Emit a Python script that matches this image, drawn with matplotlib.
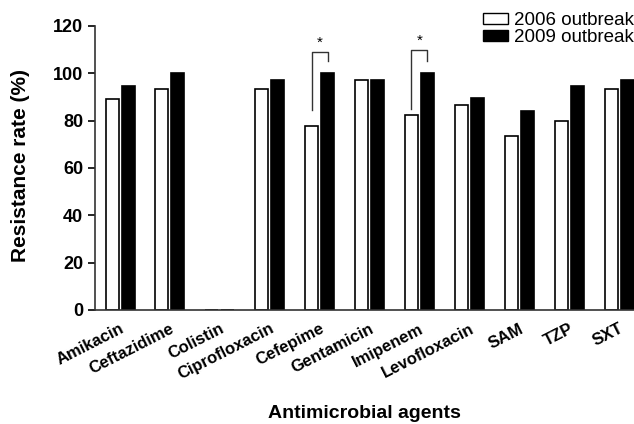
import numpy as np
import matplotlib
matplotlib.use('Agg')
from matplotlib import pyplot as plt
from matplotlib.patches import Patch

agents = ['Amikacin', 'Ceftazidime', 'Colistin', 'Ciprofloxacin', 'Cefepime',
          'Gentamicin', 'Imipenem', 'Levofloxacin', 'SAM', 'TZP', 'SXT']
rate_2006 = [88.9, 93.3, 0, 93.3, 77.8, 97.2, 82.2, 86.7, 73.3, 80.0, 93.3]
rate_2009 = [94.4, 100, 0, 97.2, 100, 97.2, 100, 89.4, 84.2, 94.4, 97.2]
# significant pairs: agent index, bracket top, left/right foot heights
sig_idx = [4, 6]
sig_top = [109, 110]
sig_left = [84.5, 85]
sig_right = [105, 105]

plt.rcParams['font.family'] = ['Liberation Sans', 'DejaVu Sans']

fig = plt.figure(figsize=(6.34, 4.24), dpi=100)
ax = fig.add_axes([0.150, 0.269, 0.85, 0.670])

x = np.arange(len(agents))
w = 0.26
off = 0.16
ax.bar(x - off, rate_2006, w, color='white', edgecolor='black', lw=1.2)
ax.bar(x + off, rate_2009, w, color='black', edgecolor='black', lw=1.2)

for i, top, yl, yr in zip(sig_idx, sig_top, sig_left, sig_right):
    ax.plot([i - off, i - off, i + off, i + off], [yl, top, top, yr],
            color='#333333', lw=1.0)
    ax.text(i, top + 0.8, '*', ha='center', va='bottom', fontsize=11)

ax.set_xlim(-0.5, 10.3)
ax.set_ylim(0, 120)
ax.set_yticks(np.arange(0, 121, 20))
ax.tick_params(axis='y', labelsize=13, width=1.2, length=5, direction='out')
for t in ax.get_yticklabels():
    t.set_fontweight('bold')
ax.set_xticks(x)
ax.set_xticklabels(agents, rotation=27, ha='right', rotation_mode='anchor',
                   fontsize=12, fontweight='bold')
ax.tick_params(axis='x', length=0, pad=8)
for s in ['top', 'right']:
    ax.spines[s].set_visible(False)
for s in ['left', 'bottom']:
    ax.spines[s].set_linewidth(1.2)
    ax.spines[s].set_color('#333333')

ax.set_ylabel('Resistance rate (%)', fontsize=15, fontweight='bold')
ax.yaxis.set_label_coords(-0.121, 0.51)
ax.set_xlabel('Antimicrobial agents', fontsize=14, fontweight='bold')
ax.xaxis.set_label_coords(0.5, -0.335)

handles = [Patch(facecolor='white', edgecolor='black', label='2006 outbreak'),
           Patch(facecolor='black', edgecolor='black', label='2009 outbreak')]
ax.legend(handles=handles, loc='upper right', bbox_to_anchor=(1.013, 1.075),
          frameon=False, fontsize=13.5, handlelength=1.3, handleheight=0.5,
          handletextpad=0.32, labelspacing=0.0, borderaxespad=0)

fig.savefig('out.png', dpi=100)
